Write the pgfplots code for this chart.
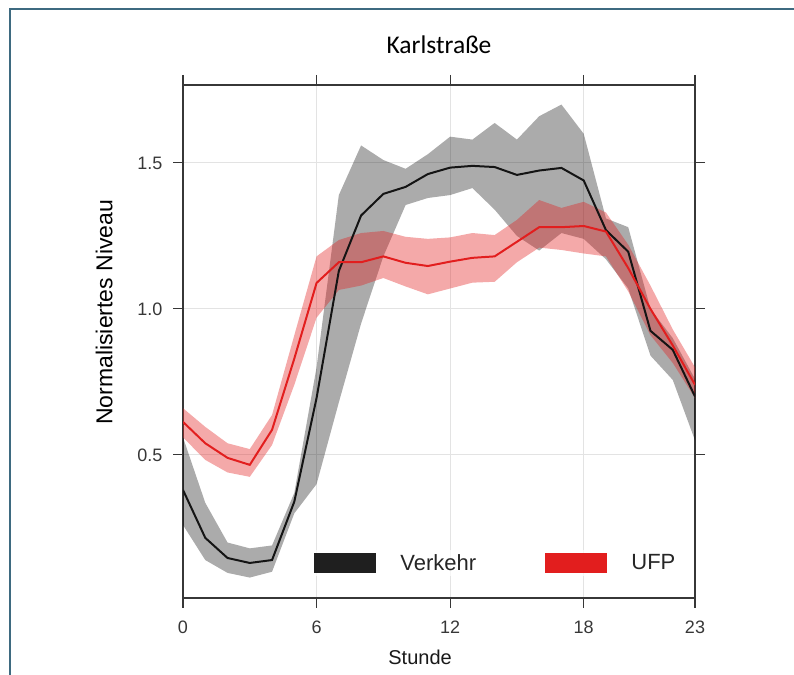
\documentclass[border=0pt]{standalone}
\usepackage{pgfplots}
\pgfplotsset{compat=1.18}
\usepackage{pgfplotstable}
\usepgfplotslibrary{fillbetween}
\usepackage{fontspec}
\setmainfont{Liberation Sans}
\newfontfamily\titlefont{Carlito}
\definecolor{framec}{RGB}{62,106,128}
\definecolor{ufp}{RGB}{226,30,30}
\definecolor{axc}{RGB}{55,55,55}

\pgfplotstableread{
h  vm    vlo   vhi   um    ulo   uhi
0  0.38  0.26  0.56  0.613 0.56  0.66
1  0.216 0.14  0.336 0.54  0.483 0.596
2  0.147 0.096 0.20  0.49  0.44  0.54
3  0.13  0.08  0.18  0.466 0.425 0.52
4  0.14  0.10  0.19  0.586 0.534 0.637
5  0.34  0.30  0.37  0.83  0.74  0.91
6  0.695 0.40  0.80  1.089 0.97  1.18
7  1.13  0.68  1.39  1.16  1.065 1.236
8  1.32  0.95  1.56  1.16  1.08  1.26
9  1.394 1.18  1.51  1.18  1.106 1.267
10 1.418 1.356 1.48  1.158 1.077 1.247
11 1.462 1.38  1.53  1.147 1.05  1.24
12 1.484 1.39  1.59  1.162 1.07  1.245
13 1.49  1.414 1.58  1.175 1.09  1.26
14 1.486 1.34  1.637 1.18  1.093 1.253
15 1.459 1.25  1.58  1.23  1.16  1.305
16 1.474 1.20  1.66  1.28  1.21  1.373
17 1.483 1.26  1.70  1.28  1.202 1.346
18 1.44  1.24  1.60  1.284 1.19  1.367
19 1.27  1.17  1.31  1.265 1.18  1.33
20 1.196 1.07  1.28  1.14  1.06  1.22
21 0.925 0.84  1.00  1.00  0.91  1.08
22 0.86  0.757 0.90  0.875 0.815 0.93
23 0.70  0.55  0.76  0.74  0.695 0.80
}\data

\begin{document}
\begin{tikzpicture}[x=1pt,y=1pt]
\draw[framec, line width=1.8pt] (10,-5) -- (10,665) -- (800,665);
\begin{axis}[
  at={(183pt,76pt)}, anchor=south west,
  scale only axis, width=512pt, height=513pt,
  xmin=0, xmax=23, ymin=0.01, ymax=1.767,
  xtick={0,6,12,18,23}, xticklabels={0,6,12,18,23},
  ytick={0.5,1,1.5}, yticklabels={0.5,1.0,1.5},
  tick align=outside, xtick pos=both, ytick pos=both,
  xticklabel pos=bottom, yticklabel pos=left,
  major tick length=10pt,
  axis line style={axc, line width=1.1pt},
  every tick/.style={axc, line width=1.1pt},
  grid=major, major grid style={black!11, line width=0.9pt},
  tick label style={font=\fontsize{18}{18}\selectfont, text=axc},
  xticklabel style={yshift=-9pt},
  yticklabel style={xshift=-7pt},
  title={\titlefont Karlstraße},
  title style={font=\fontsize{25.5}{25.5}\selectfont, at={(axis description cs:0.5,1)}, anchor=base, yshift=25pt},
  xlabel={Stunde},
  every axis x label/.style={at={(axis description cs:0.463,-0.1306)}, anchor=base, font=\fontsize{20}{20}\selectfont, text=black!90},
  ylabel={Normalisiertes Niveau},
  every axis y label/.style={at={(axis description cs:-0.154,0.557)}, anchor=center, rotate=90, font=\fontsize{23}{23}\selectfont, text=black},
  legend style={at={(axis description cs:0.25,0.068)}, anchor=west, draw=none, fill=white, fill opacity=0.7, text opacity=1, font=\fontsize{22}{22}\selectfont, text=black!85, /tikz/every even column/.append style={column sep=67pt}},
  legend columns=2,
  legend image code/.code={\fill[#1, draw=none, fill opacity=1] (0pt,-10pt) rectangle (62pt,10pt); \path (84pt,0pt);},
  no markers,
]
\addplot[name path=vhi, draw=none, forget plot] table[x=h,y=vhi]{\data};
\addplot[name path=vlo, draw=none, forget plot] table[x=h,y=vlo]{\data};
\addplot[fill=black, fill opacity=0.33, draw=none, forget plot] fill between[of=vhi and vlo];
\addplot[name path=uhi, draw=none, forget plot] table[x=h,y=uhi]{\data};
\addplot[name path=ulo, draw=none, forget plot] table[x=h,y=ulo]{\data};
\addplot[fill=ufp, fill opacity=0.38, draw=none, forget plot] fill between[of=uhi and ulo];
\addplot[black!92, line width=2pt, forget plot] table[x=h,y=vm]{\data};
\addplot[ufp, line width=2pt, forget plot] table[x=h,y=um]{\data};
\addlegendimage{fill=black!88}
\addlegendentry{Verkehr}
\addlegendimage{fill=ufp}
\addlegendentry{UFP}
\end{axis}
\pgfresetboundingbox
\useasboundingbox (0,0) rectangle (794,674);
\end{tikzpicture}
\end{document}
